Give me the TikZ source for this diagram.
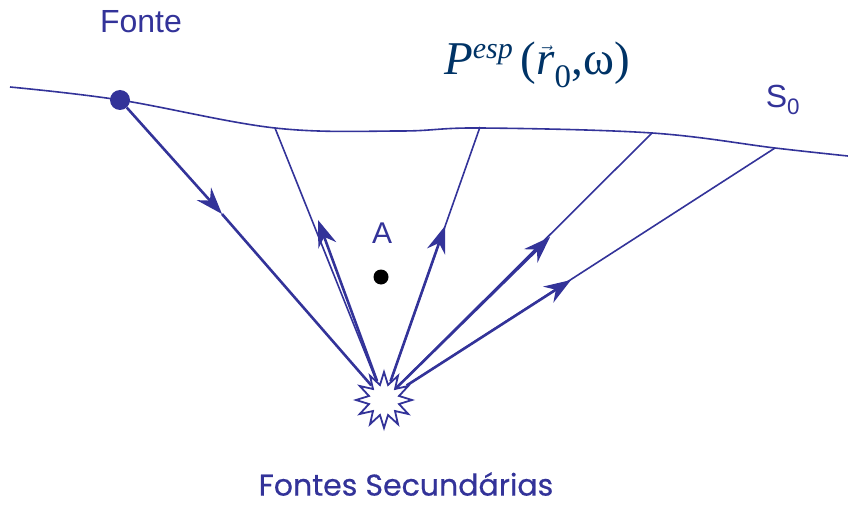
\documentclass[tikz,border=0pt]{standalone}
\usepackage{fontspec}
\setmainfont{Liberation Serif}
\setsansfont{Liberation Sans}
\newfontfamily\handfont[FakeBold=0.6]{Poppins}
\usetikzlibrary{arrows.meta,shapes.geometric}
\definecolor{raio}{RGB}{51,51,153}
\definecolor{tinta}{RGB}{0,51,102}
\begin{document}
\begin{tikzpicture}[x=1pt,y=-1pt,
  fino/.style={raio,line width=1.6pt},
  grosso/.style={raio,line width=2.6pt,-{Stealth[length=27pt,width=19pt,inset=9pt]}},
  rotulo/.style={raio,font=\sffamily\fontsize{32}{32}\selectfont}]
\useasboundingbox (0,0) rectangle (848,505);
% superficie S0
\draw[fino] plot[smooth,tension=0.6] coordinates {(10,87) (120,100) (275,128) (400,131) (480,128) (652,133) (775,148) (848,156)};
\coordinate (s1) at (275,128);
\coordinate (s2) at (480,127);
\coordinate (s3) at (652,133);
\coordinate (s4) at (775,148);
% fonte e fonte secundaria
\fill[raio] (120,100) circle (10);
\node[circle,inner sep=0pt,minimum size=20pt] (fonte) at (120,100) {};
\node[star,star points=12,star point ratio=1.8,minimum size=56pt,inner sep=0pt,draw=raio,line width=1.8pt,fill=white] (sec) at (384,400) {};
% raios
\coordinate (m0) at (222,214);
\coordinate (m1) at (318,220);
\coordinate (m2) at (445,226);
\coordinate (m3) at (550,237);
\coordinate (m4) at (571,280);
\draw[grosso] (fonte) -- (m0);
\draw[raio,line width=2.6pt] (m0) -- (sec);
\foreach \i in {1,...,4} {
  \draw[fino] (sec) -- (s\i);
  \draw[grosso] (sec) -- (m\i);
}
% ponto A
\fill (381,277) circle (7.5);
\node[rotulo,font=\sffamily\fontsize{30}{30}\selectfont] (a) at (382,233) {A};
% textos
\node[rotulo] (tfonte) at (141,22) {Fonte};
\node[rotulo] (ts0) at (783,100) {S\textsubscript{0}};
\node[tinta,font=\fontsize{47}{47}\selectfont] (pesp) at (537,65) {\textit{P}\raisebox{16pt}{\fontsize{30}{30}\selectfont\textit{esp}}\,($\vec{\mbox{\itshape r}}$\textsubscript{\raisebox{-4pt}{0}},ω)};
\node[raio,font=\handfont\fontsize{30}{30}\selectfont] (tsec) at (406,484) {Fontes Secundárias};
\end{tikzpicture}
\end{document}
